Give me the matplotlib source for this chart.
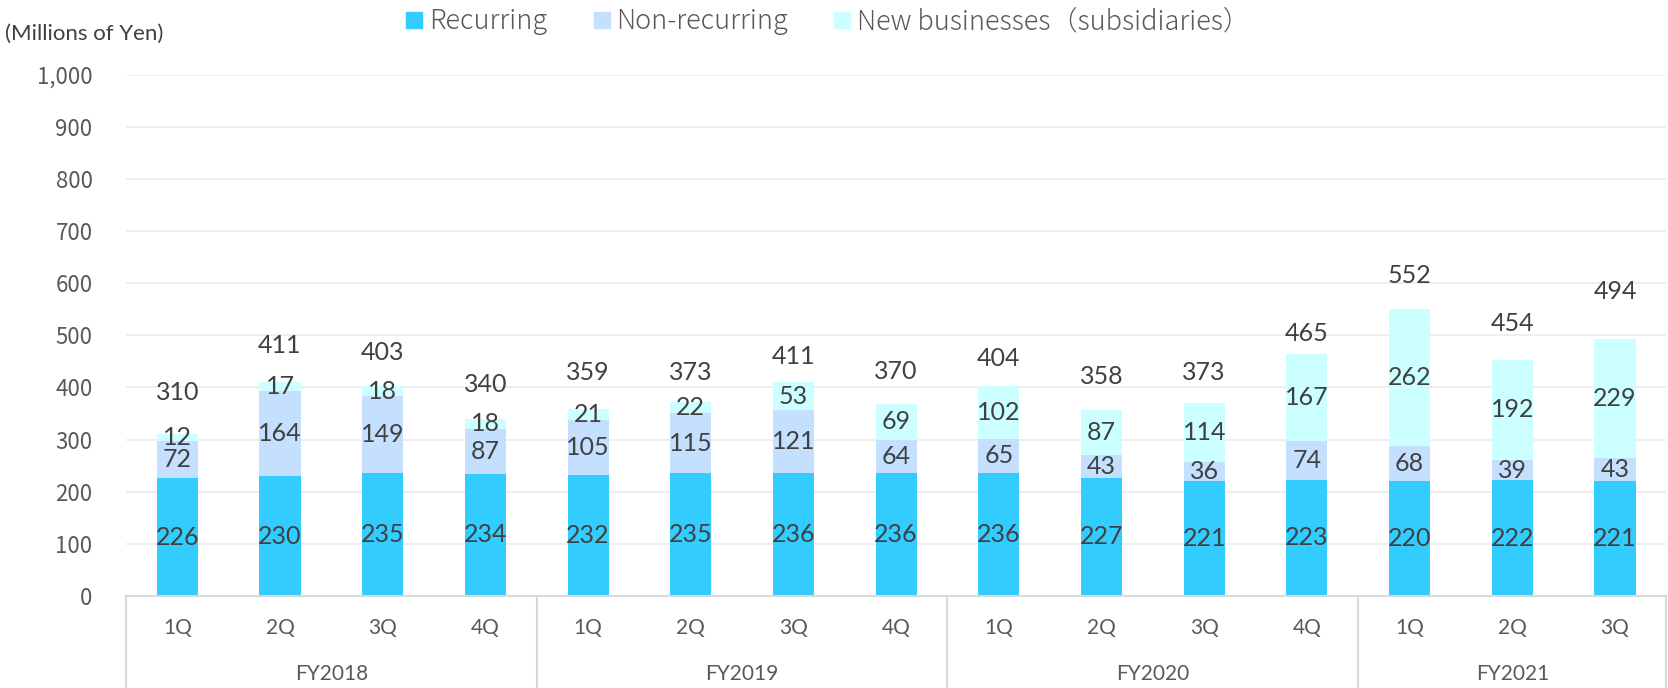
import numpy as np
import matplotlib
matplotlib.use('Agg')
import matplotlib.pyplot as plt
from matplotlib.lines import Line2D

# data
years = ['FY2018', 'FY2019', 'FY2020', 'FY2021']
quarters = ['1Q', '2Q', '3Q', '4Q', '1Q', '2Q', '3Q', '4Q',
            '1Q', '2Q', '3Q', '4Q', '1Q', '2Q', '3Q']
year_sizes = [4, 4, 4, 3]
recurring = [226, 230, 235, 234, 232, 235, 236, 236, 236, 227, 221, 223, 220, 222, 221]
non_recurring = [72, 164, 149, 87, 105, 115, 121, 64, 65, 43, 36, 74, 68, 39, 43]
new_business = [12, 17, 18, 18, 21, 22, 53, 69, 102, 87, 114, 167, 262, 192, 229]
totals = [310, 411, 403, 340, 359, 373, 411, 370, 404, 358, 373, 465, 552, 454, 494]
y_ticks = [0, 100, 200, 300, 400, 500, 600, 700, 800, 900, 1000]

# total labels sit a little above each bar (hand placed in the original)
label_nudge = [80, 69, 64, 66, 70, 56, 48, 61, 51, 63, 56, 39, 62, 68, 90]

c_rec = '#33CCFF'
c_non = '#C5E0FF'
c_new = '#CCFFFF'
txt = '#404040'
gray = '#595959'

fig = plt.figure(figsize=(16.68, 6.88), dpi=100)
ax = fig.add_axes([0.0755, 0.1337, 0.9235, 0.758])

x = np.arange(len(quarters))
w = 0.40
rec = np.array(recurring)
non = np.array(non_recurring)
new = np.array(new_business)

ax.bar(x, rec, w, color=c_rec, zorder=2)
ax.bar(x, non, w, bottom=rec, color=c_non, zorder=2)
ax.bar(x, new, w, bottom=rec + non, color=c_new, zorder=2)

lab = dict(ha='center', va='center', fontsize=18, color=txt, family='Lato', zorder=3)
for i in range(len(x)):
    ax.text(x[i], rec[i] / 2, str(rec[i]), **lab)
    ax.text(x[i], rec[i] + non[i] / 2, str(non[i]), **lab)
    ax.text(x[i], rec[i] + non[i] + new[i] / 2, str(new[i]), **lab)
    ax.text(x[i], totals[i] + label_nudge[i], str(totals[i]), **lab)

ax.set_xlim(-0.5, len(x) - 0.5)
ax.set_ylim(0, 1000)
ax.set_yticks(y_ticks)
ax.set_yticklabels(['{:,}'.format(v) for v in y_ticks], family='Noto Sans CJK JP',
                   fontsize=16, color=gray)
ax.tick_params(axis='y', length=0, pad=24)
ax.set_xticks([])
for s in ax.spines.values():
    s.set_visible(False)
ax.grid(axis='y', color='#EDEDED', linewidth=1.3, zorder=0)
ax.set_axisbelow(True)

# two level category axis
frame = '#D9D9D9'
ax.plot([-0.5, len(x) - 0.5], [0, 0], color=frame, lw=1.5, clip_on=False, zorder=4)
trans = ax.get_xaxis_transform()
bottom = -0.18
for i, q in enumerate(quarters):
    ax.text(i, -0.061, q, transform=trans, ha='center', va='center',
            fontsize=15, color=gray, family='Lato')
start = -0.5
ax.plot([start, start], [0, bottom], transform=trans, color=frame, lw=1.5, clip_on=False)
for yr, n in zip(years, year_sizes):
    end = start + n
    ax.text((start + end) / 2, -0.1496, yr, transform=trans, ha='center', va='center',
            fontsize=15, color=gray, family='Lato')
    ax.plot([end, end], [0, bottom], transform=trans, color=frame, lw=1.5, clip_on=False)
    start = end

fig.text(0.003, 0.951, '(Millions of Yen)', ha='left', va='center', fontsize=16,
         color=txt, family='Lato')

handles = [Line2D([], [], marker='s', linestyle='', markersize=12, color=c)
           for c in (c_rec, c_non, c_new)]
leg = fig.legend(handles, ['Recurring', 'Non-recurring', 'New businesses（subsidiaries）'],
                 loc='upper center', bbox_to_anchor=(0.495, 1.025), ncol=3, frameon=False,
                 handletextpad=0.05, columnspacing=1.5, handlelength=1.0,
                 prop={'family': 'Noto Sans CJK JP', 'size': 19.5, 'weight': 'light'})
for t in leg.get_texts():
    t.set_color(gray)

fig.savefig('out.png', dpi=100)
